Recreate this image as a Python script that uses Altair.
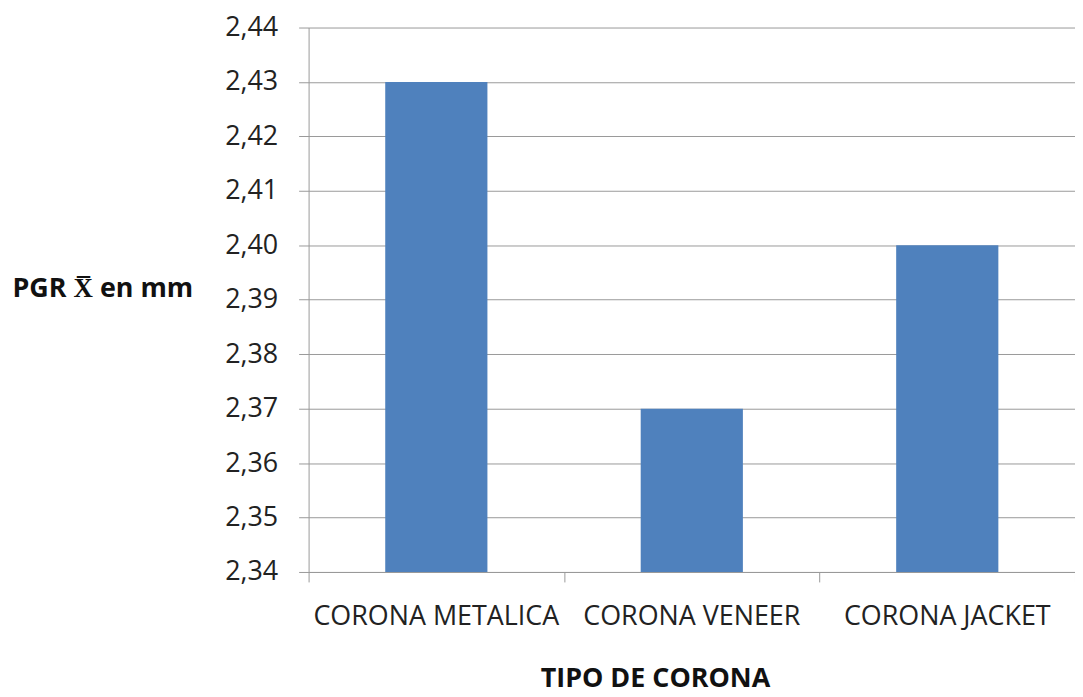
import altair as alt
import pandas as pd

categories = ["CORONA METALICA", "CORONA VENEER", "CORONA JACKET"]
values = [2.43, 2.37, 2.40]
y_ticks = [2.34, 2.35, 2.36, 2.37, 2.38, 2.39, 2.40, 2.41, 2.42, 2.43, 2.44]

df = pd.DataFrame({"tipo": categories, "pgr": values})

FONT = "Open Sans"
GRAY = "#999999"

y_enc = alt.Y("pgr:Q",
              scale=alt.Scale(domain=[2.34, 2.44], zero=False, nice=False),
              axis=alt.Axis(values=y_ticks,
                            labelExpr="replace(format(datum.value, '.2f'), '.', ',')",
                            title="PGR X\u0305 en mm", titleAngle=0,
                            titleX=-298, titleY=262, titleAlign="left",
                            titleBaseline="middle", titleFont=FONT, titleFontSize=27,
                            titleFontWeight="bold", titleColor="#111",
                            labelFont=FONT, labelFontSize=27, labelColor="#222",
                            labelPadding=21, tickSize=10, tickColor=GRAY,
                            domainColor=GRAY, gridColor=GRAY, grid=True))

bars = alt.Chart(df).mark_bar(color="#4F81BD").encode(
    x=alt.X("tipo:N", sort=categories,
            scale=alt.Scale(paddingInner=0.6, paddingOuter=0.3),
            axis=alt.Axis(title="TIPO DE CORONA", labelAngle=0, ticks=False,
                          labelFontSize=27, labelFont=FONT, labelColor="#222",
                          labelLimit=0, labelPadding=32,
                          domainColor=GRAY, titleFont=FONT, titleFontSize=27,
                          titleFontWeight="bold", titleColor="#111",
                          titleX=348, titleY=115, titleAlign="center",
                          titleBaseline="alphabetic", grid=False)),
    y=y_enc,
    y2=alt.datum(2.34),
)

ticks_layer = alt.Chart(df).mark_bar(opacity=0).encode(
    x=alt.X("tipo:N", sort=categories,
            scale=alt.Scale(paddingInner=0, paddingOuter=0),
            axis=alt.Axis(orient="bottom", title=None, labels=False, domain=False,
                          tickBand="extent", tickSize=10, tickColor=GRAY, grid=False)),
    y=y_enc,
    y2=alt.datum(2.34),
)

chart = alt.layer(bars, ticks_layer).resolve_scale(x="independent").resolve_axis(x="independent").properties(
    width=770, height=547,
    autosize=alt.AutoSizeParams(type="none"),
    padding={"left": 302, "top": 18, "right": 0, "bottom": 123},
).configure_view(stroke=None)

chart.save("out.html", embed_options={"renderer": "svg", "actions": False})
